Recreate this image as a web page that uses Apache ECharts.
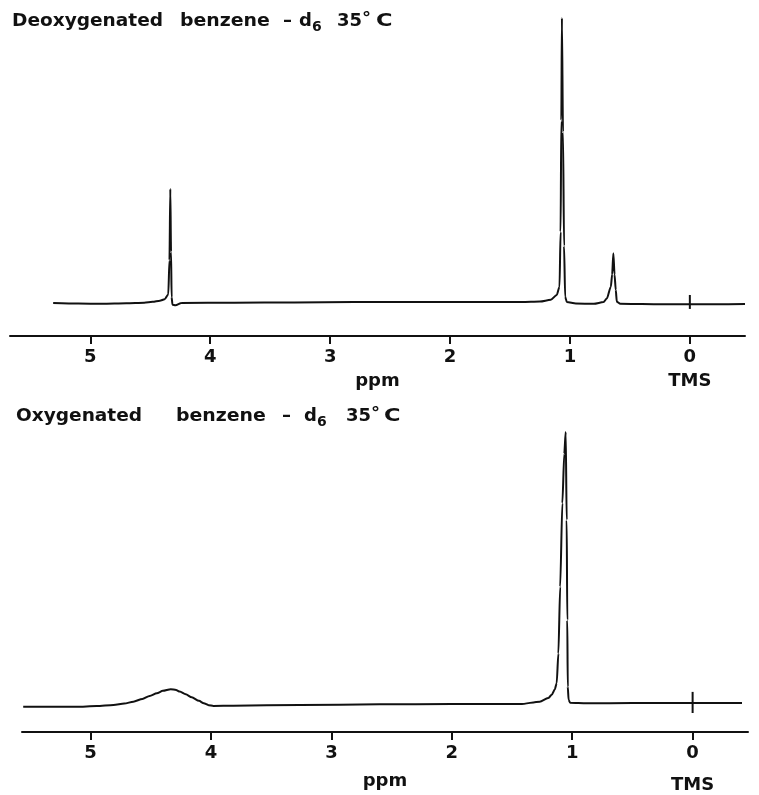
<!DOCTYPE html>
<html>
<head>
<meta charset="utf-8">
<script src="https://cdn.jsdelivr.net/npm/echarts@6/dist/echarts.min.js"></script>
<style>
    html, body { margin: 0; padding: 0; background: #fff; }
    #chart { width: 759px; height: 795px; }
</style>
</head>
<body>
<div id="chart"></div>
<script>
// ppm ticks along both axes
const ppmTicks = [0, 1, 2, 3, 4, 5];

// deoxygenated spectrum: [ppm, intensity], biggest peak = 100
const topSpectrum = [
    [5.31, 0], [5.10, -0.2], [4.90, -0.3], [4.70, -0.1], [4.55, 0.1], [4.48, 0.4], [4.42, 0.8],
    [4.38, 1.3], [4.35, 3], [4.34, 15], [4.333, 40], [4.327, 18], [4.322, 2], [4.315, -0.6],
    [4.29, -0.8], [4.24, 0], [3.80, 0.1], [3.30, 0.2], [2.80, 0.3], [2.30, 0.3], [1.80, 0.3],
    [1.40, 0.3], [1.25, 0.5], [1.16, 1.1], [1.11, 2.8], [1.087, 5.7], [1.078, 25],
    [1.072, 64], [1.067, 100], [1.058, 60], [1.049, 20], [1.040, 2.2], [1.026, 0.3],
    [0.95, -0.2], [0.80, -0.3], [0.72, 0.3], [0.692, 1.6], [0.659, 5.7], [0.648, 10],
    [0.638, 17.4], [0.628, 10], [0.618, 4.6], [0.609, 0.4], [0.58, -0.3], [0.40, -0.4],
    [0.20, -0.5], [0, -0.5], [-0.20, -0.5], [-0.46, -0.4]
];

// oxygenated spectrum: [ppm, intensity]
const bottomSpectrum = [
    [5.56, -1.4], [5.30, -1.4], [5.12, -1.4], [4.95, -1.1], [4.81, -0.7], [4.72, -0.2],
    [4.645, 0.5], [4.57, 1.5], [4.51, 2.6], [4.45, 3.6], [4.40, 4.5], [4.335, 5.1],
    [4.29, 4.8], [4.26, 4.2], [4.21, 3.2], [4.16, 2.1], [4.10, 0.8], [4.06, -0.1],
    [4.02, -0.8], [3.98, -1.1], [3.815, -1.0], [3.26, -0.7], [2.60, -0.5], [2.00, -0.4],
    [1.43, -0.4], [1.27, 0.5], [1.20, 1.8], [1.17, 3.0], [1.145, 5], [1.129, 7.3], [1.115, 18.3],
    [1.100, 42.9], [1.082, 73.7], [1.066, 92], [1.054, 100], [1.046, 67.5], [1.041, 30.6],
    [1.037, 6], [1.030, 1.2], [1.018, 0.1], [0.88, -0.1], [0.50, 0], [0, 0], [-0.41, 0]
];

// TMS reference marks drawn across each baseline
const topTms = [[0, 2.8], [0, -2.1]];
const bottomTms = [[0, 4.1], [0, -3.7]];

const ink = '#111';
const font = 'DejaVu Sans';

function ppmAxis(gridIndex, min, max, nameGap, tmsGap) {
    return {
        type: 'value',
        gridIndex: gridIndex,
        inverse: true,
        min: min,
        max: max,
        name: 'ppm',
        nameLocation: 'middle',
        nameGap: nameGap,
        nameMoveOverlap: false,
        nameTextStyle: { color: ink, fontFamily: font, fontSize: 18, fontWeight: 'bold' },
        axisLine: { onZero: false, lineStyle: { color: ink, width: 2 } },
        axisTick: { show: true, customValues: ppmTicks, length: 8, inside: false, lineStyle: { color: ink, width: 2 } },
        axisLabel: {
            customValues: ppmTicks,
            margin: 12,
            color: ink,
            fontFamily: font,
            fontSize: 18,
            fontWeight: 'bold',
            lineHeight: 18,
            formatter: function (value) {
                return value === 0 ? '0\n{t|TMS}' : String(value);
            },
            rich: {
                t: { color: ink, fontFamily: font, fontSize: 18, fontWeight: 'bold', lineHeight: tmsGap }
            }
        },
        splitLine: { show: false }
    };
}

function hiddenAxis(gridIndex, min) {
    return {
        type: 'value',
        gridIndex: gridIndex,
        min: min,
        max: 100,
        show: false,
        splitLine: { show: false }
    };
}

function trace(index, data, width) {
    return {
        type: 'line',
        xAxisIndex: index,
        yAxisIndex: index,
        data: data,
        showSymbol: false,
        smooth: 0.25,
        smoothMonotone: 'x',
        lineStyle: { color: ink, width: width },
        silent: true
    };
}

// title lettering, one piece at a time so the wide spacing can be kept
function titlePieces(y, pieces) {
    return pieces.map(function (p) {
        return {
            type: 'text',
            x: p[0],
            y: y + p[4],
            scaleX: p[3],
            style: {
                text: p[1],
                fill: ink,
                font: 'bold ' + p[2] + 'px "' + font + '"',
                verticalAlign: 'middle',
                align: 'left'
            }
        };
    });
}

const topTitle = [
    [12, 'Deoxygenated', 18, 1.03, 0], [180, 'benzene', 18, 1.05, 0], [283, '\u2013', 18, 1.0, 0],
    [299, 'd', 18, 1.0, 0], [312, '6', 14, 1.0, 6], [337, '35', 18, 1.0, 0],
    [362, '\u00b0', 18, 1.0, -2], [376, 'C', 18, 1.25, 0]
];
const bottomTitle = [
    [16, 'Oxygenated', 18, 1.03, 0], [176, 'benzene', 18, 1.05, 0], [282, '\u2013', 18, 1.0, 0],
    [304, 'd', 18, 1.0, 0], [317, '6', 14, 1.0, 6], [346, '35', 18, 1.0, 0],
    [371, '\u00b0', 18, 1.0, -2], [384, 'C', 18, 1.25, 0]
];

let chart = echarts.init(document.getElementById('chart'));

chart.setOption({
    animation: false,
    backgroundColor: '#fff',
    grid: [
        { left: 10, right: 14, top: 18, bottom: 459, outerBoundsMode: 'none', containLabel: false },
        { left: 22, right: 11, top: 432, bottom: 63, outerBoundsMode: 'none', containLabel: false }
    ],
    xAxis: [
        ppmAxis(0, -0.46, 5.67, 36, 30),
        ppmAxis(1, -0.46, 5.57, 40, 46)
    ],
    yAxis: [
        hiddenAxis(0, -11.6),
        hiddenAxis(1, -10.7)
    ],
    series: [
        trace(0, topSpectrum, 2),
        trace(0, topTms, 2),
        trace(1, bottomSpectrum, 2),
        trace(1, bottomTms, 2)
    ],
    graphic: titlePieces(21, topTitle).concat(titlePieces(416, bottomTitle))
});
</script>
</body>
</html>
